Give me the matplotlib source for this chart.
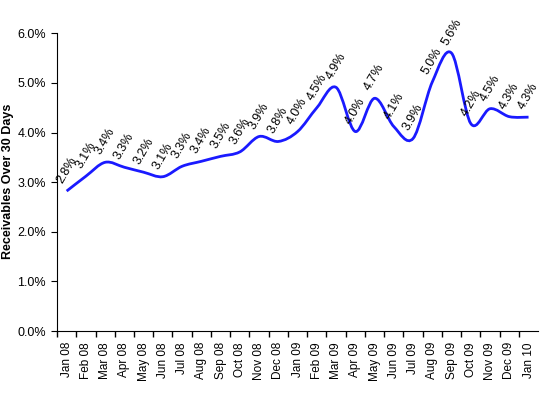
import matplotlib
matplotlib.use("Agg")
import matplotlib.pyplot as plt
import numpy as np
from matplotlib.path import Path
from matplotlib.patches import PathPatch
from matplotlib.ticker import FuncFormatter

plt.rcParams['font.family'] = ['Liberation Sans', 'DejaVu Sans']

months = ["Jan 08", "Feb 08", "Mar 08", "Apr 08", "May 08", "Jun 08", "Jul 08",
          "Aug 08", "Sep 08", "Oct 08", "Nov 08", "Dec 08", "Jan 09", "Feb 09",
          "Mar 09", "Apr 09", "May 09", "Jun 09", "Jul 09", "Aug 09", "Sep 09",
          "Oct 09", "Nov 09", "Dec 09", "Jan 10"]
# percent of receivables over 30 days
values = [2.82, 3.12, 3.40, 3.30, 3.20, 3.11, 3.32, 3.42, 3.52, 3.61, 3.92, 3.82,
          4.02, 4.50, 4.91, 4.02, 4.69, 4.12, 3.88, 5.02, 5.60, 4.18, 4.48, 4.32, 4.31]

fig = plt.figure(figsize=(5.4, 3.95), dpi=100)
ax = fig.add_axes([0.1056, 0.162, 0.891, 0.7537])

x = np.arange(len(values))
y = np.array(values)

# smoothed line like excel (bezier segments through the points)
verts = [(x[0], y[0])]
codes = [Path.MOVETO]
n = len(x)
for i in range(n - 1):
    p0 = np.array([x[max(i-1, 0)], y[max(i-1, 0)]])
    p1 = np.array([x[i], y[i]])
    p2 = np.array([x[i+1], y[i+1]])
    p3 = np.array([x[min(i+2, n-1)], y[min(i+2, n-1)]])
    c1 = p1 + (p2 - p0) / 6.0
    c2 = p2 - (p3 - p1) / 6.0
    verts += [tuple(c1), tuple(c2), tuple(p2)]
    codes += [Path.CURVE4, Path.CURVE4, Path.CURVE4]
ax.add_patch(PathPatch(Path(verts, codes), facecolor='none', edgecolor='#1a1aff', lw=2))

for xi, yi in zip(x, y):
    ax.annotate("%.1f%%" % yi, (xi, yi), xytext=(0, 15), textcoords='offset points',
                ha='center', va='center', rotation=60, fontsize=9)

ax.set_xlim(-0.5, len(values) - 0.5)
ax.set_ylim(0, 6)
ax.set_yticks(np.arange(0, 6.1, 1))
ax.yaxis.set_major_formatter(FuncFormatter(lambda v, p: "%.1f%%" % v))
ax.set_xticks(np.arange(len(values)) - 0.5)
ax.set_xticklabels([])
ax.set_xticks(x, minor=True)
ax.set_xticklabels(months, minor=True, rotation=90, fontsize=8.5)
ax.tick_params(axis='x', which='minor', length=0, pad=8)
ax.tick_params(axis='x', which='major', length=4, width=1)
ax.tick_params(axis='y', length=4, labelsize=9, pad=4)

ax.spines['top'].set_visible(False)
ax.spines['right'].set_visible(False)
fig.text(8 / 540, 0.542, "Receivables Over 30 Days", rotation=90, ha='center', va='center',
         fontsize=9, fontweight='bold')

fig.savefig("out.png", dpi=100)
